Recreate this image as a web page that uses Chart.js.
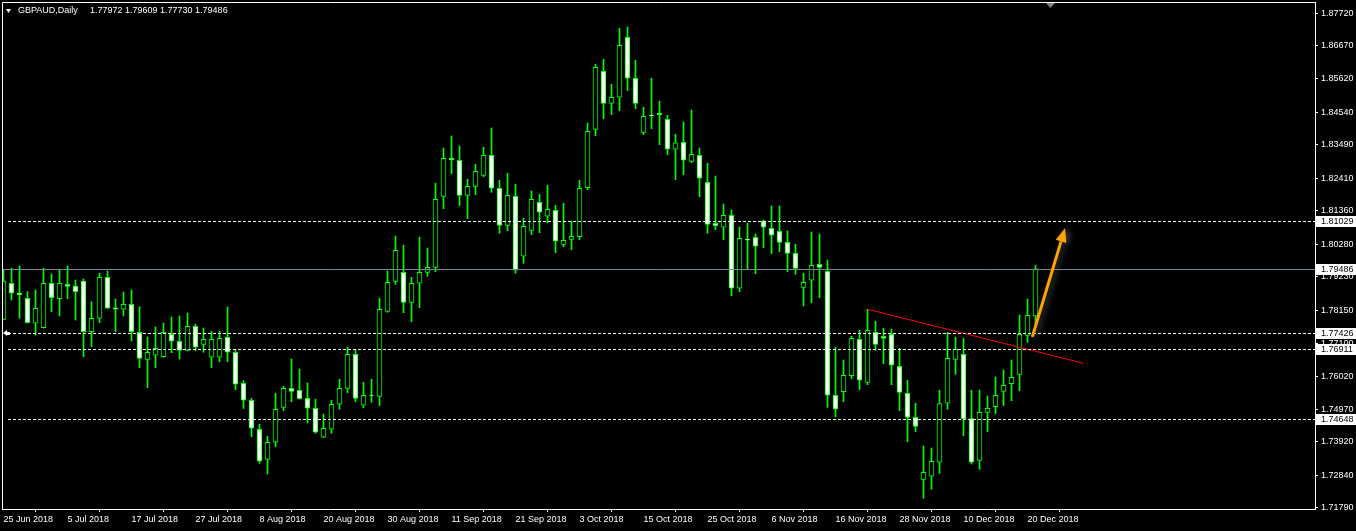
<!DOCTYPE html>
<html>
<head>
<meta charset="utf-8">
<style>
  html, body { margin: 0; padding: 0; background: #000; }
  #wrap { width: 1356px; height: 531px; position: relative; }
</style>
<script src="https://cdn.jsdelivr.net/npm/chart.js@4/dist/chart.umd.min.js"></script>
</head>
<body>
<div id="wrap"><canvas id="chart"></canvas></div>
<script>
// GBPAUD daily, 25 Jun 2018 .. 21 Dec 2018 (bar index 0..129)
const open = [
1.77864,1.79024,1.78712,1.78541,1.77736,1.77594,1.79024,1.78528,1.78992,1.78937,
1.79098,1.77465,1.77897,1.79217,1.78230,1.78187,1.78348,1.77446,1.76576,1.76705,
1.76660,1.77381,1.77156,1.76866,1.77639,1.77059,1.76641,1.76641,1.77285,1.76802,
1.75803,1.75256,1.74322,1.73355,1.73903,1.75030,1.75642,1.75578,1.75320,1.74998,
1.74064,1.74322,1.75127,1.75642,1.76737,1.75095,1.75425,1.75384,1.78122,1.79088,
1.79378,1.78412,1.79024,1.79378,1.79539,1.81826,1.83050,1.82986,1.81858,1.82148,
1.82502,1.83147,1.82084,1.80892,1.81826,1.79894,1.80731,1.81633,1.81182,1.81375,
1.80280,1.80441,1.80525,1.82103,1.83984,1.85852,1.84821,1.85015,1.86947,1.85627,
1.83887,1.84435,1.84499,1.84306,1.83340,1.83565,1.82953,1.83147,1.82277,1.80956,
1.80828,1.81214,1.78863,1.80451,1.80505,1.81030,1.80795,1.80699,1.80344,1.79990,
1.78895,1.79121,1.79636,1.79410,1.75417,1.75533,1.76048,1.77220,1.75835,1.77446,
1.77317,1.77381,1.76351,1.75481,1.74708,1.72711,1.72808,1.73259,1.75159,1.76576,
1.76737,1.74663,1.73323,1.74869,1.75049,1.75545,1.75790,1.76093,1.77349,1.77972
];
const high = [
1.79452,1.79507,1.79581,1.78753,1.78808,1.79507,1.79323,1.79452,1.79581,1.79130,
1.79162,1.78431,1.79346,1.79420,1.78518,1.78744,1.78808,1.78270,1.77294,1.77616,
1.77745,1.77939,1.77971,1.78067,1.77713,1.77584,1.77478,1.77478,1.78261,1.76898,
1.75887,1.75320,1.74483,1.74096,1.75481,1.75706,1.76586,1.76264,1.75813,1.75288,
1.74814,1.75256,1.75932,1.76963,1.76898,1.75835,1.75932,1.78541,1.79420,1.80547,
1.80257,1.79217,1.80515,1.80161,1.82245,1.83382,1.83768,1.83446,1.82374,1.82857,
1.83404,1.84026,1.82341,1.82567,1.82213,1.81117,1.81997,1.81890,1.82180,1.81536,
1.81601,1.81021,1.82341,1.84187,1.86077,1.86239,1.85433,1.87237,1.87279,1.86206,
1.84693,1.85627,1.84895,1.84435,1.83823,1.84219,1.84606,1.83382,1.82889,1.82480,
1.81578,1.81385,1.80837,1.80966,1.80612,1.81063,1.81514,1.81514,1.80708,1.80280,
1.79346,1.80676,1.80612,1.79774,1.76963,1.76554,1.77317,1.77510,1.78187,1.77800,
1.77575,1.77542,1.76930,1.75900,1.75159,1.73784,1.73719,1.75578,1.77446,1.77285,
1.77252,1.75578,1.75587,1.75394,1.76006,1.76231,1.76554,1.78003,1.78518,1.79609
];
const low = [
1.77850,1.78486,1.77897,1.77745,1.77359,1.77580,1.78109,1.77971,1.78528,1.77842,
1.76660,1.76982,1.77755,1.78210,1.77465,1.77971,1.77166,1.76306,1.75661,1.76306,
1.76640,1.76789,1.76586,1.76850,1.76850,1.76802,1.76306,1.76499,1.76499,1.75597,
1.74991,1.74083,1.73226,1.72882,1.73761,1.74921,1.75210,1.75290,1.74534,1.74193,
1.74050,1.74193,1.74966,1.75500,1.75210,1.75017,1.75191,1.75082,1.78090,1.78992,
1.78077,1.77787,1.78238,1.79249,1.79398,1.81427,1.82554,1.81523,1.81105,1.81878,
1.82457,1.81955,1.80634,1.80718,1.79346,1.79668,1.80589,1.80654,1.80976,1.80009,
1.80203,1.80106,1.80428,1.82039,1.83778,1.84325,1.84454,1.84583,1.85227,1.84647,
1.83810,1.84003,1.83488,1.83166,1.82361,1.82522,1.82908,1.81813,1.80634,1.80750,
1.80428,1.78625,1.78753,1.79462,1.79333,1.80171,1.79977,1.80042,1.79398,1.79314,
1.78293,1.78399,1.78560,1.75030,1.74727,1.75210,1.75951,1.75597,1.75758,1.76866,
1.76434,1.75758,1.74921,1.73922,1.74244,1.72099,1.72389,1.72904,1.74966,1.76093,
1.74115,1.73204,1.73033,1.74244,1.74824,1.75082,1.75243,1.75565,1.77124,1.77730
];
const close = [
1.79098,1.78702,1.78657,1.77755,1.78219,1.79024,1.78560,1.79024,1.78927,1.78753,
1.77465,1.77897,1.79217,1.78219,1.78190,1.78348,1.77465,1.76608,1.76802,1.76930,
1.77446,1.77156,1.76866,1.77639,1.76963,1.77220,1.77220,1.77252,1.76802,1.75771,
1.75256,1.74354,1.73291,1.73903,1.74966,1.75642,1.75545,1.75307,1.74998,1.74225,
1.74354,1.75127,1.75642,1.76737,1.75320,1.75417,1.75415,1.78187,1.79056,1.80087,
1.78412,1.79024,1.79378,1.79539,1.81729,1.83050,1.83005,1.81858,1.82148,1.82631,
1.83147,1.82084,1.80892,1.81858,1.79443,1.80860,1.81729,1.81311,1.81407,1.80377,
1.80409,1.80538,1.82084,1.83920,1.85981,1.84821,1.85015,1.86689,1.85627,1.84821,
1.84403,1.84413,1.84454,1.83340,1.83552,1.82986,1.83179,1.82406,1.80924,1.80879,
1.81214,1.78863,1.80473,1.80415,1.80216,1.80828,1.80570,1.80344,1.79990,1.79507,
1.79056,1.79604,1.79539,1.75417,1.74966,1.76061,1.77252,1.75900,1.77510,1.77059,
1.77252,1.76383,1.75513,1.74708,1.74418,1.72937,1.73291,1.75146,1.76608,1.76898,
1.74653,1.73259,1.74869,1.74998,1.75417,1.75739,1.75996,1.77381,1.77993,1.79486
];

const tickBars = [0, 8, 16, 24, 32, 40, 48, 56, 64, 72, 80, 88, 96, 104, 112, 120, 128];
const tickLabels = ['25 Jun 2018', '5 Jul 2018', '17 Jul 2018', '27 Jul 2018', '8 Aug 2018',
  '20 Aug 2018', '30 Aug 2018', '11 Sep 2018', '21 Sep 2018', '3 Oct 2018', '15 Oct 2018',
  '25 Oct 2018', '6 Nov 2018', '16 Nov 2018', '28 Nov 2018', '10 Dec 2018', '20 Dec 2018'];
const priceTicks = [1.87720, 1.86670, 1.85620, 1.84540, 1.83490, 1.82410, 1.81360, 1.80280,
  1.79230, 1.78150, 1.77100, 1.76020, 1.74970, 1.73920, 1.72840, 1.71790];

// horizontal levels and the bid line
const levels = [1.81029, 1.77426, 1.76911, 1.74648];
const bid = 1.79486;
const header = ['GBPAUD,Daily', '1.77972 1.79609 1.77730 1.79486'];

// red trend line and orange arrow (bar index, price)
const trendX = [108, 135];
const trendY = [1.78187, 1.76447];
const arrowX = [128.6, 132.7];
const arrowY = [1.77298, 1.80805];

const GREEN = '#00ff00';

const wicks = low.map((l, i) => ({ x: i, y: [l, high[i]] }));
const bodies = open.map((o, i) => ({ x: i, y: [Math.min(o, close[i]), Math.max(o, close[i])] }));
const bodyFill = open.map((o, i) => close[i] >= o ? '#000000' : '#ffffff');

Chart.defaults.font.family = "'Liberation Sans', Arial, sans-serif";
Chart.defaults.font.size = 9;
Chart.defaults.color = '#ffffff';

function noPad(s) {
  s.paddingTop = 0;
  s.paddingBottom = 0;
  s.paddingLeft = 0;
  s.paddingRight = 0;
}

const overlay = {
  id: 'overlay',
  afterDatasetsDraw(chart) {
    const ctx = chart.ctx, a = chart.chartArea;
    const xs = chart.scales.x, ys = chart.scales.y;
    ctx.save();
    ctx.beginPath();
    ctx.rect(a.left, a.top, a.right - a.left, a.bottom - a.top);
    ctx.clip();

    // dashed price levels
    ctx.strokeStyle = '#ffffff';
    ctx.lineWidth = 1;
    ctx.setLineDash([3, 2]);
    levels.forEach(v => {
      const y = Math.round(ys.getPixelForValue(v)) + 0.5;
      ctx.beginPath();
      ctx.moveTo(a.left + 6, y);
      ctx.lineTo(a.right, y);
      ctx.stroke();
    });
    ctx.setLineDash([]);

    // bid line
    ctx.strokeStyle = '#778899';
    const by = Math.round(ys.getPixelForValue(bid)) + 0.5;
    ctx.beginPath();
    ctx.moveTo(a.left, by);
    ctx.lineTo(a.right, by);
    ctx.stroke();

    // orange arrow
    const x0 = xs.getPixelForValue(arrowX[0]), y0 = ys.getPixelForValue(arrowY[0]);
    const x1 = xs.getPixelForValue(arrowX[1]), y1 = ys.getPixelForValue(arrowY[1]);
    const ang = Math.atan2(y1 - y0, x1 - x0);
    const head = 14, hw = 5.5;
    const bx = x1 - Math.cos(ang) * head, byy = y1 - Math.sin(ang) * head;
    ctx.shadowColor = 'rgba(120,120,120,0.6)';
    ctx.shadowBlur = 6;
    ctx.shadowOffsetX = 3;
    ctx.strokeStyle = '#ffa500';
    ctx.fillStyle = '#ffa500';
    ctx.lineWidth = 3;
    ctx.beginPath();
    ctx.moveTo(x0, y0);
    ctx.lineTo(bx, byy);
    ctx.stroke();
    ctx.beginPath();
    ctx.moveTo(x1, y1);
    ctx.lineTo(bx + Math.sin(ang) * hw, byy - Math.cos(ang) * hw);
    ctx.lineTo(bx - Math.sin(ang) * hw, byy + Math.cos(ang) * hw);
    ctx.closePath();
    ctx.fill();
    ctx.restore();
  },
  afterDraw(chart) {
    const ctx = chart.ctx, a = chart.chartArea, ys = chart.scales.y;
    ctx.save();
    // frame (left and top)
    ctx.strokeStyle = '#ffffff';
    ctx.lineWidth = 1;
    ctx.beginPath();
    ctx.moveTo(a.left + 0.5, a.bottom);
    ctx.lineTo(a.left + 0.5, a.top + 0.5);
    ctx.lineTo(a.right, a.top + 0.5);
    ctx.stroke();

    // price boxes on the right axis
    ctx.font = "9px 'Liberation Sans', Arial, sans-serif";
    ctx.textBaseline = 'middle';
    ctx.textAlign = 'left';
    levels.concat([bid]).forEach(v => {
      const y = Math.round(ys.getPixelForValue(v));
      ctx.fillStyle = '#ffffff';
      ctx.fillRect(a.right + 1, y - 5, 40, 11);
      ctx.fillStyle = '#000000';
      ctx.fillText(v.toFixed(5), a.right + 6, y + 0.5);
    });

    // alert mark at left of 1.77426
    const ay = Math.round(ys.getPixelForValue(levels[1]));
    ctx.fillStyle = '#ffffff';
    ctx.beginPath();
    ctx.moveTo(a.left + 1, ay);
    ctx.lineTo(a.left + 5, ay - 3);
    ctx.lineTo(a.left + 5, ay + 3);
    ctx.closePath();
    ctx.fill();
    ctx.fillRect(a.left + 4, ay - 1, 4, 3);

    // chart shift marker
    ctx.fillStyle = '#808080';
    ctx.beginPath();
    ctx.moveTo(1046, a.top + 1);
    ctx.lineTo(1055, a.top + 1);
    ctx.lineTo(1050.5, a.top + 6);
    ctx.closePath();
    ctx.fill();

    // header
    ctx.fillStyle = '#ffffff';
    ctx.beginPath();
    ctx.moveTo(6, 9);
    ctx.lineTo(11, 9);
    ctx.lineTo(8.5, 13);
    ctx.closePath();
    ctx.fill();
    ctx.fillText(header[0], 18, 11);
    ctx.fillText(header[1], 90, 11);
    ctx.restore();
  }
};

new Chart(document.getElementById('chart'), {
  data: {
    datasets: [
      {
        type: 'line',
        data: trendX.map((x, i) => ({ x: x, y: trendY[i] })),
        borderColor: '#ff0000',
        borderWidth: 1,
        pointRadius: 0,
        order: 0
      },
      {
        type: 'bar',
        data: bodies,
        backgroundColor: bodyFill,
        borderColor: GREEN,
        borderWidth: 1,
        borderSkipped: false,
        barThickness: 5,
        grouped: false,
        order: 1
      },
      {
        type: 'bar',
        data: wicks,
        backgroundColor: GREEN,
        borderWidth: 0,
        barThickness: 1,
        grouped: false,
        order: 2
      }
    ]
  },
  options: {
    responsive: true,
    maintainAspectRatio: false,
    animation: false,
    events: [],
    layout: { padding: { left: 2, top: 2, right: 0, bottom: 0 } },
    plugins: { legend: { display: false }, tooltip: { enabled: false } },
    scales: {
      x: {
        type: 'linear',
        min: -0.1875,
        max: 163.9375,
        offset: false,
        afterFit: s => { s.height = 22; noPad(s); },
        afterBuildTicks: s => { s.ticks = tickBars.map(v => ({ value: v })); },
        grid: { drawOnChartArea: false, color: '#ffffff', tickLength: 3 },
        border: { display: true, color: '#ffffff' },
        ticks: {
          autoSkip: false,
          maxRotation: 0,
          align: 'start',
          padding: 2,
          color: '#ffffff',
          callback: v => tickLabels[tickBars.indexOf(v)]
        }
      },
      y: {
        type: 'linear',
        position: 'right',
        min: 1.717544,
        max: 1.880840,
        afterFit: s => { s.width = 41; noPad(s); },
        afterBuildTicks: s => { s.ticks = priceTicks.map(v => ({ value: v })); },
        grid: { drawOnChartArea: false, color: '#ffffff', tickLength: 3 },
        border: { display: true, color: '#ffffff' },
        ticks: {
          padding: 3,
          color: '#ffffff',
          callback: v => v.toFixed(5)
        }
      }
    }
  },
  plugins: [overlay]
});
</script>
</body>
</html>
